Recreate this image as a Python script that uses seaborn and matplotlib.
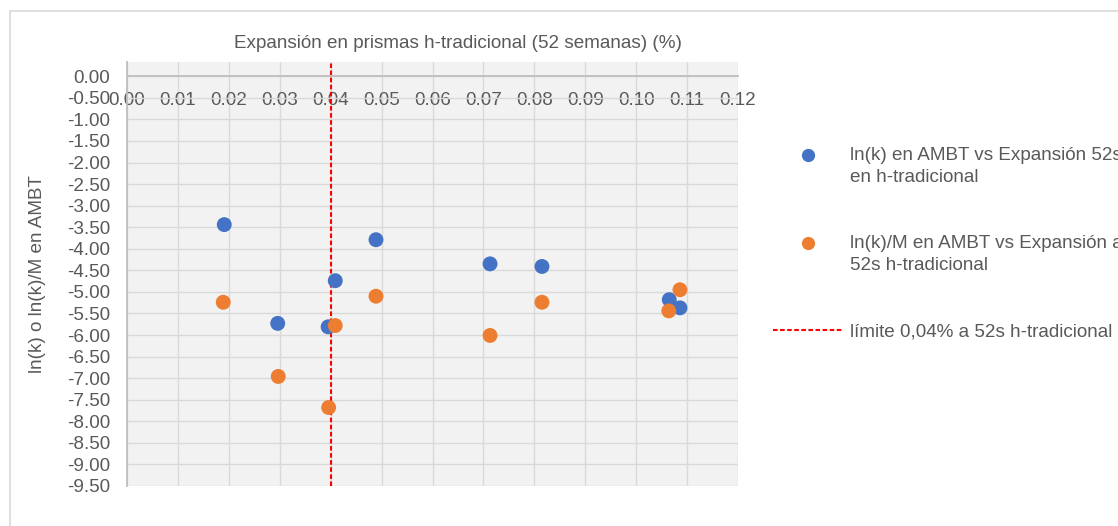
import matplotlib
matplotlib.use('Agg')
import matplotlib.pyplot as plt
import seaborn as sns
import pandas as pd
from matplotlib.lines import Line2D
from matplotlib.patches import Rectangle

# Expansion values (x) and the two response series (y)
expansion = [0.0191, 0.0296, 0.0395, 0.0409, 0.0489, 0.0713, 0.0815, 0.1065, 0.1086]
ln_k = [-3.44, -5.73, -5.81, -4.74, -3.79, -4.35, -4.41, -5.18, -5.37]
expansion_m = [0.0189, 0.0297, 0.0396, 0.0409, 0.0489, 0.0713, 0.0815, 0.1086, 0.1064]
ln_k_m = [-5.24, -6.96, -7.68, -5.78, -5.10, -6.01, -5.24, -4.95, -5.44]
limit_x = 0.04

label_blue = 'ln(k) en AMBT vs Expansión 52s\nen h-tradicional'
label_orange = 'ln(k)/M en AMBT vs Expansión a\n52s h-tradicional'
label_limit = 'límite 0,04% a 52s h-tradicional'

x_ticks = [i / 100 for i in range(0, 13)]
y_ticks = [-i / 2 for i in range(0, 20)]

blue = '#4472C4'
orange = '#ED7D31'
text_color = '#595959'
fs = 13.6

df = pd.concat([
    pd.DataFrame({'x': expansion, 'y': ln_k, 'serie': label_blue}),
    pd.DataFrame({'x': expansion_m, 'y': ln_k_m, 'serie': label_orange}),
])

sns.set_style('white')
plt.rcParams['font.family'] = ['Liberation Sans', 'DejaVu Sans']
plt.rcParams['text.color'] = text_color

fig = plt.figure(figsize=(11.18, 5.26), dpi=100)
ax = fig.add_axes([127 / 1118, 1 - 486 / 526, (738 - 127) / 1118, (486 - 62) / 526])
ax.set_facecolor('#F2F2F2')

ax.axvline(limit_x, color='#FF0000', lw=1.5, linestyle=(0, (2.2, 1.2)), zorder=2)
sns.scatterplot(data=df, x='x', y='y', hue='serie', palette=[blue, orange],
                s=115, linewidth=0, legend=False, ax=ax, zorder=3)

ax.set_xlim(0, 0.12)
ax.set_ylim(-9.5, 0.33)
ax.set_xticks(x_ticks)
ax.set_yticks(y_ticks)
ax.set_xticklabels([f'{v:.2f}' for v in x_ticks])
ax.set_yticklabels([f'{v:.2f}' for v in y_ticks])
ax.grid(True, color='#D9D9D9', lw=1.0)
ax.set_axisbelow(True)

for side in ['top', 'right']:
    ax.spines[side].set_visible(False)
ax.spines['bottom'].set_position(('data', 0))
ax.spines['bottom'].set_color('#BFBFBF')
ax.spines['left'].set_color('#BFBFBF')
ax.spines['bottom'].set_linewidth(1.3)
ax.spines['left'].set_linewidth(1.3)
ax.tick_params(axis='x', length=0, pad=11, labelsize=fs, labelcolor=text_color)
ax.tick_params(axis='y', length=0, pad=12, labelsize=fs, labelcolor=text_color)
ax.set_xlabel('')
ax.set_ylabel('')

fig.text(38 / 1118, 1 - 274 / 526, 'ln(k) o ln(k)/M en AMBT', rotation=90,
         ha='center', va='center', fontsize=fs, color=text_color)
fig.text(458 / 1118, 1 - 43 / 526, 'Expansión en prismas h-tradicional (52 semanas) (%)',
         ha='center', va='center', fontsize=fs, color=text_color)

handles = [
    Line2D([], [], marker='o', color=blue, linestyle='none', markersize=8.5),
    Line2D([], [], marker='o', color=orange, linestyle='none', markersize=8.5),
    Line2D([], [], color='#FF0000', lw=1.5, linestyle=(0, (2.2, 1.2))),
]
leg = fig.legend(handles, [label_blue, label_orange, label_limit], loc='upper left',
                 bbox_to_anchor=(773 / 1118, 1 - 147 / 526), frameon=False, fontsize=fs,
                 borderpad=0, borderaxespad=0, handlelength=3.7, handletextpad=0.4,
                 labelspacing=2.6, labelcolor=text_color)
for t in leg.get_texts():
    t.set_linespacing(1.38)

# Excel puts the marker beside the first line of a two-line label
for h in leg.legend_handles[:2]:
    h.set_ydata([y + 8 for y in h.get_ydata()])

fig.patches.append(Rectangle((10 / 1118, -0.1), 1.2, 1 - 11 / 526 + 0.1,
                             transform=fig.transFigure, fill=False,
                             edgecolor='#D9D9D9', lw=1.2))

fig.savefig('out.png', dpi=100)
